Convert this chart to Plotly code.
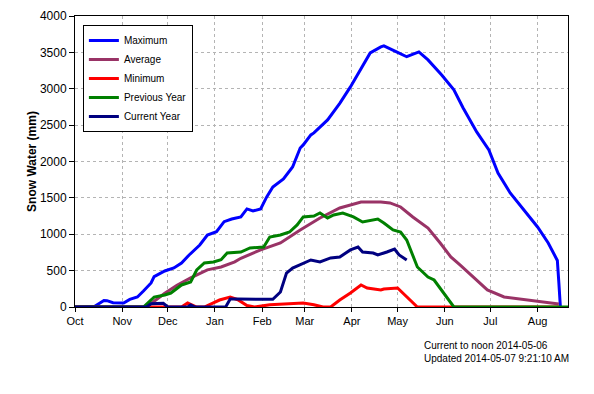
import pandas as pd
import plotly.graph_objects as go

# day of water year (0 = Oct 1, 2013) and snow water (mm)
max_days = [0, 10, 13, 19, 21, 25, 30, 32, 36, 41, 45, 50, 52, 57, 59, 65, 70, 75, 82, 87, 93, 98, 103, 109, 113, 117, 122, 126, 130, 137, 143, 148, 150, 155, 157, 166, 172, 174, 181, 188, 194, 201, 203, 212, 218, 226, 232, 241, 249, 255, 264, 272, 278, 286, 295, 304, 311, 317, 318, 319]
max_vals = [0, 0, 10, 90, 87, 60, 50, 55, 105, 137, 220, 330, 417, 470, 495, 536, 605, 715, 852, 990, 1035, 1173, 1210, 1238, 1348, 1320, 1348, 1513, 1650, 1760, 1925, 2186, 2228, 2365, 2393, 2571, 2736, 2800, 3025, 3286, 3492, 3575, 3589, 3500, 3440, 3506, 3396, 3190, 2984, 2740, 2406, 2159, 1842, 1568, 1334, 1100, 880, 640, 330, 0]

avg_days = [0, 47, 59, 67, 76, 87, 96, 105, 109, 122, 135, 148, 161, 174, 188, 201, 207, 214, 222, 232, 240, 247, 253, 262, 271, 282, 293, 304, 318]
avg_vals = [0, 0, 190, 300, 400, 510, 550, 620, 670, 784, 880, 1059, 1224, 1361, 1444, 1444, 1430, 1375, 1238, 1086, 880, 688, 578, 399, 234, 138, 110, 83, 41]

min_days = [0, 70, 74, 80, 85, 95, 102, 107, 113, 118, 128, 140, 150, 157, 163, 168, 174, 181, 188, 192, 201, 203, 212, 225, 318]
min_vals = [0, 0, 55, 0, 0, 96, 137, 100, 20, 0, 30, 45, 55, 30, 0, 0, 96, 192, 303, 261, 234, 247, 261, 0, 0]

prev_days = [0, 45, 52, 59, 63, 70, 76, 80, 85, 91, 96, 100, 109, 115, 124, 128, 135, 141, 146, 150, 157, 161, 166, 170, 176, 183, 189, 196, 199, 203, 209, 214, 218, 225, 232, 236, 242, 248, 249, 324]
prev_vals = [0, 0, 137, 165, 192, 303, 344, 509, 605, 619, 650, 742, 756, 811, 825, 962, 990, 1031, 1128, 1238, 1251, 1292, 1224, 1265, 1292, 1238, 1169, 1196, 1210, 1155, 1059, 1031, 921, 550, 412, 371, 206, 28, 0, 0]

cur_days = [0, 47, 50, 58, 61, 74, 76, 79, 99, 102, 107, 130, 135, 139, 143, 150, 155, 161, 168, 174, 181, 186, 189, 196, 199, 205, 210, 213, 218]
cur_vals = [0, 0, 45, 50, 0, 0, 28, 0, 0, 110, 110, 105, 206, 467, 536, 605, 646, 619, 674, 688, 784, 825, 756, 742, 715, 756, 797, 715, 646]

month_start = "2013-10-01"
x_end = "2014-08-21"

def to_dates(days):
    return pd.Timestamp(month_start) + pd.to_timedelta(days, unit="D")

series = [
    ("Maximum", max_days, max_vals, "#0000FF"),
    ("Average", avg_days, avg_vals, "#993366"),
    ("Minimum", min_days, min_vals, "#FF0000"),
    ("Previous Year", prev_days, prev_vals, "#008000"),
    ("Current Year", cur_days, cur_vals, "#000080"),
]

FONT = "Arial, Liberation Sans, sans-serif"
fig = go.Figure()
for i, (name, d, v, c) in enumerate(series):
    fig.add_trace(go.Scatter(x=to_dates(d), y=v, mode="lines", name=name,
                             legendgroup=str(i),
                             line=dict(color=c, width=3)))

fig.update_layout(
    width=586, height=386,
    margin=dict(l=67, r=26, t=8, b=87, autoexpand=False),
    paper_bgcolor="white", plot_bgcolor="white",
    font=dict(family=FONT, size=12, color="black"),
    showlegend=True,
    legend=dict(x=0.016, y=0.969, xanchor="left", yanchor="top",
                bordercolor="black", borderwidth=1, bgcolor="white",
                font=dict(size=10, family=FONT), tracegroupgap=0,
                itemwidth=30),
    xaxis=dict(type="date", range=[month_start, x_end], dtick="M1", tick0=month_start,
               tickformat="%b", showgrid=True, gridcolor="#b4b4b4", griddash="dot",
               gridwidth=1, showline=True, linecolor="black", linewidth=1, mirror=True,
               ticks="outside", ticklen=4, tickcolor="black", zeroline=False,
               automargin=False, tickfont=dict(size=11, family=FONT)),
    yaxis=dict(range=[0, 4000], dtick=500, showgrid=True, gridcolor="#b4b4b4",
               griddash="dot", gridwidth=1, showline=True, linecolor="black",
               linewidth=1, mirror=True, ticks="outside", ticklen=5, tickcolor="black",
               zeroline=False, automargin=False, tickfont=dict(size=12, family=FONT),
               title=dict(text="<b>Snow Water (mm)</b>", font=dict(size=12, family=FONT),
                          standoff=0)),
    annotations=[
        dict(text="Current to noon 2014-05-06<br>Updated 2014-05-07 9:21:10 AM",
             xref="paper", yref="paper", x=0.704, y=-0.108, xanchor="left",
             yanchor="top", showarrow=False, align="left",
             font=dict(size=10, family=FONT)),
    ],
)

fig.write_html("out.html")
